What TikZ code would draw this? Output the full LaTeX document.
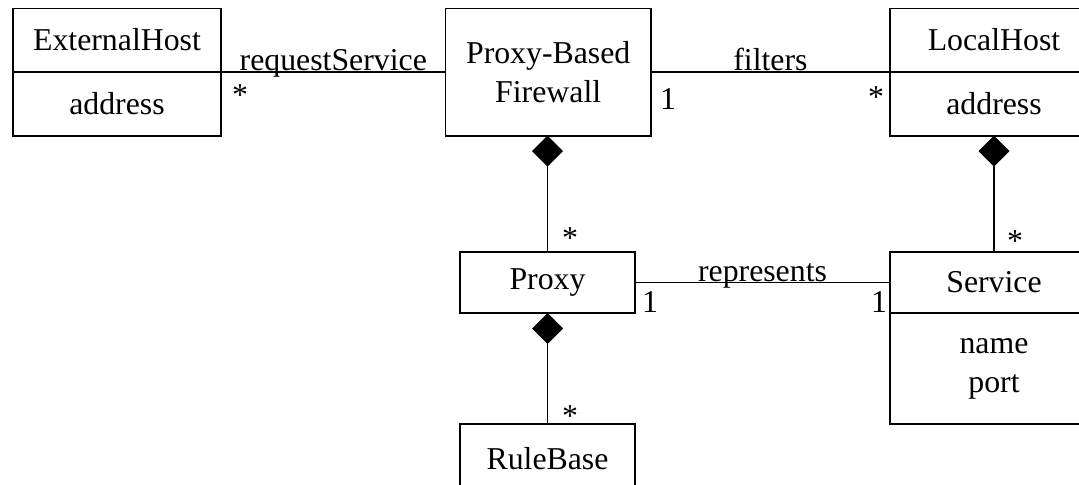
\documentclass[tikz,border=0pt]{standalone}
\usepackage{fontspec}
\setmainfont{Liberation Serif}
\usetikzlibrary{positioning,arrows.meta}

\begin{document}
\begin{tikzpicture}[x=0.5pt,y=-0.5pt,
      font=\fontsize{15.9}{19.5}\selectfont,
      box/.style={draw,rectangle,line width=.9pt,inner sep=0pt,outer sep=0pt,align=center},
      wide/.style={box,minimum width=104pt},
      narrow/.style={box,minimum width=87.5pt},
      mult/.style={inner sep=0pt,anchor=base},
      assoc/.style={line width=.9pt},
      compose/.style={assoc,-{Diamond[length=15.5pt,width=15.5pt]}}]
  \useasboundingbox (0,0) rectangle (1079,485);
  \clip (0,0) rectangle (1079,485);

  % classes
  \node (exthost) [wide,minimum height=31.6pt,anchor=north west] at (13,8.5) {ExternalHost};
  \node (extaddr) [wide,minimum height=32pt,below=0pt of exthost] {address};
  \node (firewall) [box,minimum width=102.7pt,minimum height=63.6pt,anchor=north west] at (445.5,8.5) {Proxy-Based\\Firewall};
  \node (lochost) [wide,minimum height=31.6pt,anchor=north west] at (890,8.5) {LocalHost};
  \node (locaddr) [wide,minimum height=32pt,below=0pt of lochost] {address};
  \node (proxy) [narrow,minimum height=30.5pt,anchor=north west] at (460,252) {Proxy};
  \node (service) [wide,minimum height=30.5pt,anchor=north west] at (890,252) {Service};
  \node (servattr) [wide,minimum height=55.5pt,below=0pt of service] {name\\port};
  \node (rulebase) [narrow,minimum height=35pt,anchor=north west] at (460,424) {RuleBase};

  % associations
  \draw [assoc] (exthost.south east) -- (exthost.south east -| firewall.west)
    node (reqlbl) [midway,anchor=base,yshift=.5pt] {requestService};
  \draw [assoc] (lochost.south west -| firewall.east) -- (lochost.south west)
    node (filtlbl) [midway,anchor=base,yshift=.5pt] {filters};
  \draw [assoc] (proxy.east) -- (proxy.east -| service.west)
    node (replbl) [midway,anchor=base,yshift=.5pt] {represents};

  % compositions
  \draw [compose] (proxy.north) -- (proxy.north |- firewall.south);
  \draw [compose] (service.north) -- (locaddr.south);
  \draw [compose] (rulebase.north) -- (proxy.south);

  % multiplicities
  \node (extmult) [mult] at (240,106) {*};
  \node (fwone) [mult] at (668,110) {1};
  \node (locmult) [mult] at (876,108) {*};
  \node (proxymult) [mult] at (570,249) {*};
  \node (servmult) [mult] at (1015,252) {*};
  \node (proxyone) [mult] at (650,313) {1};
  \node (servone) [mult] at (879,313) {1};
  \node (rulemult) [mult] at (570,426) {*};
\end{tikzpicture}
\end{document}
